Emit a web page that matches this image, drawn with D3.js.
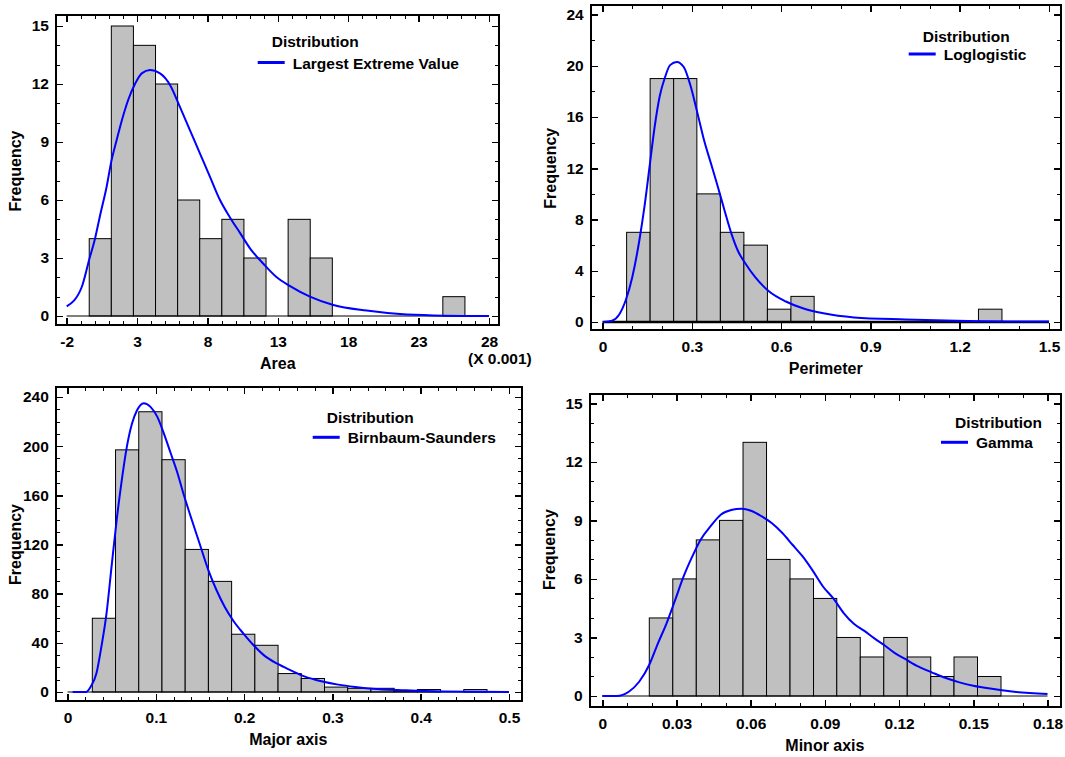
<!DOCTYPE html>
<html>
<head>
<meta charset="utf-8">
<script src="https://cdn.jsdelivr.net/npm/d3@7"></script>
<style>
  html, body { margin: 0; padding: 0; background: #ffffff; }
  svg { display: block; }
  text { font-family: "Liberation Sans", Arial, Helvetica, sans-serif; fill: #000; }
</style>
</head>
<body>
<svg id="chart" width="1065" height="757"></svg>
<script>
// ---------------- Area (x 0.001) ----------------
const areaBinEdges = [-0.4, 1.17, 2.74, 4.31, 5.88, 7.45, 9.02, 10.59, 12.16, 13.73, 15.30, 16.87, 18.44, 20.01, 21.58, 23.15, 24.72, 26.29];
const areaCounts   = [4, 15, 14, 12, 6, 4, 5, 3, 0, 5, 3, 0, 0, 0, 0, 0, 1];
const areaFit = [[-2,0.5],[-0.93,1.5],[-0.39,2.95],[0.01,4.0],[0.37,5.2],[0.84,6.7],[1.17,8.0],[1.55,9.1],[1.91,10.1],
  [2.38,11.2],[2.85,12.0],[3.33,12.55],[3.92,12.72],[4.63,12.55],[5.34,11.95],[6.05,10.8],[6.76,9.6],[7.47,8.4],
  [8.18,7.2],[8.89,6.0],[9.6,5.1],[10.31,4.3],[11.02,3.5],[11.97,2.7],[12.92,2.0],[13.87,1.55],[15.28,1.0],
  [16.94,0.57],[19.31,0.28],[21.68,0.1],[24.05,0.03],[28,0]];
const areaXTicks = [-2, 3, 8, 13, 18, 23, 28];
const areaXLabels = ["-2", "3", "8", "13", "18", "23", "28"];
const areaYTicks = [0, 3, 6, 9, 12, 15];

// ---------------- Perimeter ----------------
const perimBinEdges = [0.081, 0.160, 0.239, 0.317, 0.396, 0.475, 0.554, 0.633, 0.711, 0.790, 0.869, 0.948, 1.027, 1.105, 1.184, 1.263, 1.342];
const perimCounts   = [7, 19, 19, 10, 7, 6, 1, 2, 0, 0, 0, 0, 0, 0, 0, 1];
const perimFit = [[0.003,0],[0.032,0.1],[0.055,0.55],[0.078,1.7],[0.10,3.5],[0.124,6.4],[0.141,9.0],[0.158,12.1],
  [0.175,15.2],[0.192,17.6],[0.21,19.1],[0.227,20.05],[0.25,20.3],[0.273,19.9],[0.295,18.5],[0.318,16.4],
  [0.341,14.2],[0.364,12.4],[0.387,10.6],[0.41,8.7],[0.433,6.9],[0.456,5.5],[0.479,4.6],[0.513,3.5],
  [0.559,2.4],[0.616,1.6],[0.673,1.07],[0.742,0.68],[0.845,0.36],[1.017,0.2],[1.189,0.1],[1.5,0.03]];
const perimXTicks = [0, 0.3, 0.6, 0.9, 1.2, 1.5];
const perimXLabels = ["0", "0.3", "0.6", "0.9", "1.2", "1.5"];
const perimYTicks = [0, 4, 8, 12, 16, 20, 24];

// ---------------- Major axis ----------------
const majorBinEdges = [0.028, 0.0543, 0.0806, 0.1069, 0.1332, 0.1595, 0.1858, 0.2121, 0.2384, 0.2647, 0.2910, 0.3173, 0.3436, 0.3699, 0.3962, 0.4225, 0.4488, 0.4751];
const majorCounts   = [60, 197, 228, 189, 116, 90, 47, 38, 15, 11, 4, 3, 3, 1, 2, 0, 2];
const majorFit = [[0.0057,0],[0.021,0],[0.0268,5],[0.0326,15],[0.0383,37],[0.0441,64],[0.0498,102],[0.0556,140],
  [0.0613,172],[0.067,199],[0.0728,218],[0.0785,229],[0.0862,235],[0.0939,232],[0.1015,224],[0.1092,210],
  [0.1169,194],[0.1245,178],[0.1322,159],[0.1398,142],[0.1494,121],[0.159,100],[0.1686,83],[0.1782,69],
  [0.1877,58],[0.1992,47.5],[0.2107,38],[0.2222,30],[0.2375,23],[0.2529,17.6],[0.2682,12.7],[0.2874,8.7],
  [0.3065,6.0],[0.3257,4.1],[0.3448,2.7],[0.3831,1.4],[0.4215,0.5],[0.5,0]];
const majorXTicks = [0, 0.1, 0.2, 0.3, 0.4, 0.5];
const majorXLabels = ["0", "0.1", "0.2", "0.3", "0.4", "0.5"];
const majorYTicks = [0, 40, 80, 120, 160, 200, 240];

// ---------------- Minor axis ----------------
const minorBinEdges = [0.0190, 0.0285, 0.0380, 0.0474, 0.0569, 0.0664, 0.0759, 0.0854, 0.0948, 0.1043, 0.1138, 0.1233, 0.1328, 0.1422, 0.1517, 0.1612];
const minorCounts   = [4, 6, 8, 9, 13, 7, 6, 5, 3, 2, 3, 2, 1, 2, 1];
const minorFit = [[0,0],[0.0059,0],[0.0107,0.22],[0.0149,0.73],[0.019,1.6],[0.0225,2.7],[0.0259,3.7],[0.0294,4.9],
  [0.0328,6.1],[0.0362,7.1],[0.0397,8.0],[0.0438,8.7],[0.048,9.3],[0.0521,9.53],[0.0562,9.6],[0.0604,9.48],
  [0.0645,9.2],[0.0686,8.85],[0.0728,8.35],[0.0769,7.75],[0.081,7.15],[0.0852,6.4],[0.0893,5.6],[0.0934,5.0],
  [0.0976,4.25],[0.1017,3.7],[0.1058,3.35],[0.11,2.95],[0.1141,2.6],[0.1183,2.2],[0.1224,1.9],[0.1279,1.5],
  [0.1334,1.2],[0.1389,0.92],[0.1444,0.7],[0.15,0.53],[0.1568,0.38],[0.1665,0.22],[0.18,0.1]];
const minorXTicks = [0, 0.03, 0.06, 0.09, 0.12, 0.15, 0.18];
const minorXLabels = ["0", "0.03", "0.06", "0.09", "0.12", "0.15", "0.18"];
const minorYTicks = [0, 3, 6, 9, 12, 15];

// Panel layout: frame box, scale ranges, minor tick steps, legend placement.
const panels = [
  { title: "Area", dist: "Largest Extreme Value", edges: areaBinEdges, counts: areaCounts, fit: areaFit,
    xTicks: areaXTicks, xLabels: areaXLabels, yTicks: areaYTicks, xMinorStep: 1, yMinorStep: 1,
    xDomain: [-2, 28], yDomain: [0, 15],
    frame: { left: 56, top: 15, right: 499, bottom: 325 },
    xRange: [66.7, 489], yRange: [316, 26], baseWidth: 1,
    legend: { x: 257.7, titleY: 46.7, lineY: 62.5 }, multiplier: "(X 0.001)" },
  { title: "Perimeter", dist: "Loglogistic", edges: perimBinEdges, counts: perimCounts, fit: perimFit,
    xTicks: perimXTicks, xLabels: perimXLabels, yTicks: perimYTicks, xMinorStep: 0.1, yMinorStep: 2,
    xDomain: [0, 1.5], yDomain: [0, 24],
    frame: { left: 590.7, top: 5, right: 1060.5, bottom: 330 },
    xRange: [602.5, 1049], yRange: [322, 14.5], baseWidth: 2.5,
    legend: { x: 908.7, titleY: 41.7, lineY: 54 } },
  { title: "Major axis", dist: "Birnbaum-Saunders", edges: majorBinEdges, counts: majorCounts, fit: majorFit,
    xTicks: majorXTicks, xLabels: majorXLabels, yTicks: majorYTicks, xMinorStep: 0.02, yMinorStep: 10,
    xDomain: [0, 0.5], yDomain: [0, 240],
    frame: { left: 55.8, top: 387, right: 521.6, bottom: 701 },
    xRange: [67.6, 509], yRange: [692, 397], baseWidth: 1,
    legend: { x: 312.7, titleY: 422.7, lineY: 437.3 } },
  { title: "Minor axis", dist: "Gamma", edges: minorBinEdges, counts: minorCounts, fit: minorFit,
    xTicks: minorXTicks, xLabels: minorXLabels, yTicks: minorYTicks, xMinorStep: 0.01, yMinorStep: 1,
    xDomain: [0, 0.18], yDomain: [0, 15],
    frame: { left: 589.7, top: 394, right: 1061, bottom: 707 },
    xRange: [602.3, 1047.5], yRange: [696, 403.3], baseWidth: 1,
    legend: { x: 941, titleY: 428.3, lineY: 442.3 } }
];

const svg = d3.select("#chart");
const TICK_FONT = 15.5, TITLE_FONT = 16, LEGEND_FONT = 15.5;

function minorValues(domain, step) {
  const n = Math.round((domain[1] - domain[0]) / step);
  return d3.range(n + 1).map(i => +(domain[0] + i * step).toFixed(6));
}

function styleAxis(sel, width) {
  sel.select(".domain").remove();
  sel.selectAll(".tick line").attr("stroke", "#000").attr("stroke-width", width)
    .attr("shape-rendering", "crispEdges");
}

panels.forEach(p => {
  const g = svg.append("g");
  const x = d3.scaleLinear().domain(p.xDomain).range(p.xRange);
  const y = d3.scaleLinear().domain(p.yDomain).range(p.yRange);
  const f = p.frame;

  // histogram bars
  const bins = p.counts.map((c, i) => ({ x0: p.edges[i], x1: p.edges[i + 1], count: c }))
    .filter(d => d.count > 0);
  g.append("g").selectAll("rect").data(bins).join("rect")
    .attr("x", d => x(d.x0))
    .attr("y", d => y(d.count))
    .attr("width", d => x(d.x1) - x(d.x0))
    .attr("height", d => y(0) - y(d.count))
    .attr("fill", "#c0c0c0")
    .attr("stroke", "#000")
    .attr("stroke-width", 1);

  // zero line
  g.append("line")
    .attr("x1", x(p.xDomain[0])).attr("x2", x(p.xDomain[1]))
    .attr("y1", y(0)).attr("y2", y(0))
    .attr("stroke", "#000").attr("stroke-width", p.baseWidth);

  // fitted density
  const line = d3.line().x(d => x(d[0])).y(d => y(d[1])).curve(d3.curveMonotoneX);
  g.append("path").datum(p.fit)
    .attr("d", line)
    .attr("fill", "none")
    .attr("stroke", "#0000ff")
    .attr("stroke-width", 2);

  // frame
  g.append("rect")
    .attr("x", f.left).attr("y", f.top)
    .attr("width", f.right - f.left).attr("height", f.bottom - f.top)
    .attr("fill", "none").attr("stroke", "#000").attr("stroke-width", 2)
    .attr("shape-rendering", "crispEdges");

  const xMinor = minorValues(p.xDomain, p.xMinorStep);
  const yMinor = minorValues(p.yDomain, p.yMinorStep);

  // bottom axis: labelled major ticks + minor ticks, pointing inward
  const bottomMajor = g.append("g").attr("transform", `translate(0,${f.bottom})`)
    .call(d3.axisBottom(x).tickValues(p.xTicks).tickSize(-7).tickPadding(11)
      .tickFormat((d, i) => p.xLabels[i]));
  styleAxis(bottomMajor, 1.5);
  bottomMajor.selectAll("text").attr("font-size", TICK_FONT).attr("font-weight", "bold")
    .attr("font-family", "Liberation Sans, Arial, sans-serif");
  styleAxis(g.append("g").attr("transform", `translate(0,${f.bottom})`)
    .call(d3.axisBottom(x).tickValues(xMinor).tickSize(-4).tickFormat("")), 1);

  // top axis ticks
  styleAxis(g.append("g").attr("transform", `translate(0,${f.top})`)
    .call(d3.axisTop(x).tickValues(p.xTicks).tickSize(-7).tickFormat("")), 1.5);
  styleAxis(g.append("g").attr("transform", `translate(0,${f.top})`)
    .call(d3.axisTop(x).tickValues(xMinor).tickSize(-4).tickFormat("")), 1);

  // left axis
  const leftMajor = g.append("g").attr("transform", `translate(${f.left},0)`)
    .call(d3.axisLeft(y).tickValues(p.yTicks).tickSize(-7).tickPadding(7));
  styleAxis(leftMajor, 1.5);
  leftMajor.selectAll("text").attr("font-size", TICK_FONT).attr("font-weight", "bold")
    .attr("font-family", "Liberation Sans, Arial, sans-serif");
  styleAxis(g.append("g").attr("transform", `translate(${f.left},0)`)
    .call(d3.axisLeft(y).tickValues(yMinor).tickSize(-4).tickFormat("")), 1);

  // right axis ticks
  styleAxis(g.append("g").attr("transform", `translate(${f.right},0)`)
    .call(d3.axisRight(y).tickValues(p.yTicks).tickSize(-7).tickFormat("")), 1.5);
  styleAxis(g.append("g").attr("transform", `translate(${f.right},0)`)
    .call(d3.axisRight(y).tickValues(yMinor).tickSize(-4).tickFormat("")), 1);

  // axis titles
  g.append("text")
    .attr("x", (p.xRange[0] + p.xRange[1]) / 2)
    .attr("y", f.bottom + 44)
    .attr("text-anchor", "middle")
    .attr("font-size", TITLE_FONT).attr("font-weight", "bold")
    .text(p.title);
  g.append("text")
    .attr("transform", `translate(${f.left - 35},${(p.yRange[0] + p.yRange[1]) / 2}) rotate(-90)`)
    .attr("text-anchor", "middle")
    .attr("font-size", TITLE_FONT).attr("font-weight", "bold")
    .text("Frequency");

  if (p.multiplier) {
    g.append("text")
      .attr("x", 468).attr("y", f.bottom + 38.5)
      .attr("font-size", TICK_FONT).attr("font-weight", "bold")
      .text(p.multiplier);
  }

  // legend
  const L = p.legend;
  g.append("text")
    .attr("x", L.x + 14).attr("y", L.titleY)
    .attr("font-size", LEGEND_FONT).attr("font-weight", "bold")
    .text("Distribution");
  g.append("line")
    .attr("x1", L.x).attr("x2", L.x + 27)
    .attr("y1", L.lineY).attr("y2", L.lineY)
    .attr("stroke", "#0000ff").attr("stroke-width", 3);
  g.append("text")
    .attr("x", L.x + 35).attr("y", L.lineY + 6)
    .attr("font-size", LEGEND_FONT).attr("font-weight", "bold")
    .text(p.dist);
});
</script>
</body>
</html>
